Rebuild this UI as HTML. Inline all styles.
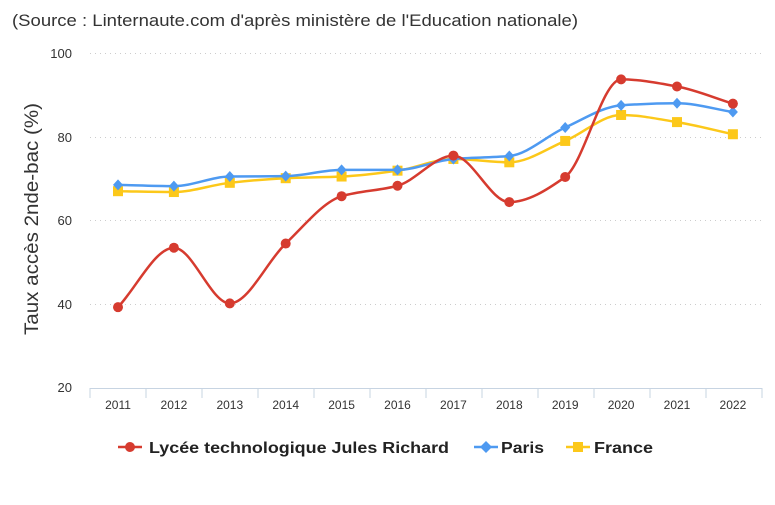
<!DOCTYPE html><html><head><meta charset="utf-8"><style>body{margin:0;background:#fff;font-family:"Liberation Sans",sans-serif}</style></head><body>
<svg id="s" width="775" height="500" xmlns="http://www.w3.org/2000/svg" font-family="Liberation Sans, sans-serif">
<text x="12" y="26" font-size="16.5" fill="#333" textLength="566" lengthAdjust="spacingAndGlyphs">(Source : Linternaute.com d'après ministère de l'Education nationale)</text>
<g stroke="#ccc" stroke-dasharray="1,4" stroke-width="1">
<line x1="90" x2="762" y1="53.5" y2="53.5"/><line x1="90" x2="762" y1="137.5" y2="137.5"/><line x1="90" x2="762" y1="220.5" y2="220.5"/><line x1="90" x2="762" y1="304.5" y2="304.5"/></g>
<g font-size="13" fill="#333" text-anchor="end"><text x="72" y="58">100</text><text x="72" y="142">80</text><text x="72" y="225">60</text><text x="72" y="309">40</text><text x="72" y="392">20</text></g>
<text transform="translate(38,219) rotate(-90)" text-anchor="middle" font-size="19" fill="#333" textLength="232" lengthAdjust="spacingAndGlyphs">Taux accès 2nde-bac (%)</text>
<g id="ax" stroke="#c7d4e2" stroke-width="1"><line x1="90" x2="762" y1="388.5" y2="388.5"/></g>
<g id="xl" font-size="12" fill="#333" text-anchor="middle"></g>
<g id="lines"></g>
<g font-size="16" font-weight="bold" fill="#222">
<line x1="118" x2="142" y1="447" y2="447" stroke="#d63b2f" stroke-width="2.5"/><circle cx="130" cy="447" r="5" fill="#d63b2f"/>
<text x="149" y="453" textLength="300" lengthAdjust="spacingAndGlyphs">Lycée technologique Jules Richard</text>
<line x1="474" x2="498" y1="447" y2="447" stroke="#4e9af1" stroke-width="2.5"/><path d="M486 441 L492 447 L486 453 L480 447Z" fill="#4e9af1"/>
<text x="501" y="453" textLength="43" lengthAdjust="spacingAndGlyphs">Paris</text>
<line x1="566" x2="590" y1="447" y2="447" stroke="#fcc81a" stroke-width="2.5"/><rect x="573" y="442" width="10" height="10" fill="#fcc81a"/>
<text x="594" y="453" textLength="59" lengthAdjust="spacingAndGlyphs">France</text></g>
</svg>
<script>
const NS="http://www.w3.org/2000/svg";
const X=i=>118+i*55.9, Y=v=>388-(v-20)*4.1875;
const ax=document.getElementById('ax'),xl=document.getElementById('xl'),L=document.getElementById('lines');
function el(t,a,p){const e=document.createElementNS(NS,t);for(const k in a)e.setAttribute(k,a[k]);p.appendChild(e);return e;}
for(let i=0;i<=12;i++){const x=90+i*56;el('line',{x1:x,x2:x,y1:388,y2:398},ax);}
for(let i=0;i<12;i++){el('text',{x:X(i),y:409},xl).textContent=2011+i;}
const S=[
["#fcc81a","sq",[67,66.8,69,70.1,70.5,71.9,74.7,73.9,79,85.2,83.5,80.6]],
["#4e9af1","di",[68.5,68.2,70.5,70.6,72.1,72.1,74.7,75.4,82.2,87.5,88,85.9]],
["#d63b2f","ci",[39.3,53.5,40.2,54.5,65.8,68.3,75.5,64.4,70.4,93.7,92,87.9]]];
for(const [c,m,d] of S){const p=d.map((v,i)=>[X(i),Y(v)]);const n=p.length,h=55.9;
const dl=[];for(let i=0;i<n-1;i++)dl.push((p[i+1][1]-p[i][1])/h);
const t=[];for(let i=0;i<n;i++){if(i==0)t.push(dl[0]);else if(i==n-1)t.push(dl[n-2]);
else{const a=dl[i-1],b=dl[i];t.push(a*b<=0?0:2/(1/a+1/b));}}
let s=`M${p[0]}`;
for(let i=0;i<n-1;i++){const b=p[i],e=p[i+1];
s+=` C${b[0]+h/3},${b[1]+t[i]*h/3} ${e[0]-h/3},${e[1]-t[i+1]*h/3} ${e[0]},${e[1]}`;}
el('path',{d:s,fill:'none',stroke:c,'stroke-width':2.5},L);
for(const [x,y] of p){if(m=='ci')el('circle',{cx:x,cy:y,r:5,fill:c},L);
else if(m=='sq')el('rect',{x:x-5,y:y-5,width:10,height:10,fill:c},L);
else el('path',{d:`M${x} ${y-5.5}L${x+5} ${y}L${x} ${y+5.5}L${x-5} ${y}Z`,fill:c},L);}}
</script>
</body></html>
